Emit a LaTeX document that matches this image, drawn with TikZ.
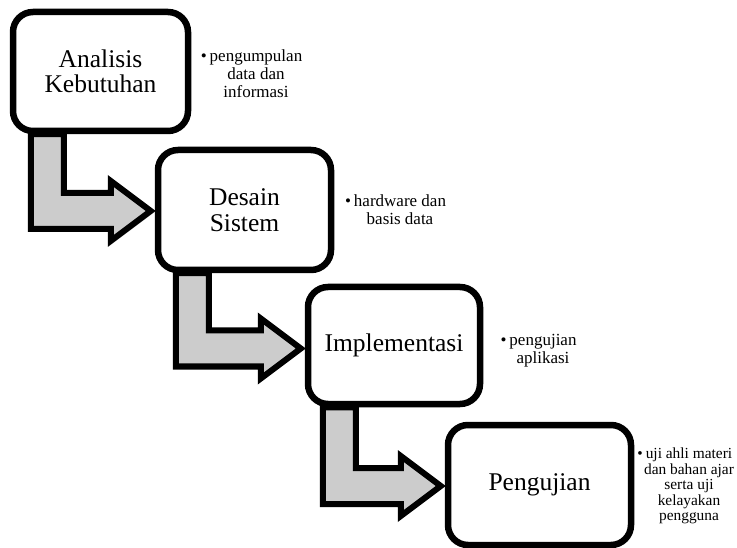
\documentclass[tikz,border=0pt]{standalone}
\pgfdeclarelayer{background}
\pgfsetlayers{background,main}
\usepackage{fontspec}
\setmainfont{Liberation Serif}
\usetikzlibrary{calc}
\definecolor{arrowgray}{gray}{0.8}

\begin{document}
\begin{tikzpicture}[x=1pt,y=-1pt]
      \tikzstyle{every node}=[font=\fontsize{17}{18}\selectfont]
      \tikzstyle{stage}=[draw, line width=6.5pt, rounded corners=20pt, fill=white,
        align=center, inner sep=0pt, font=\fontsize{25.5}{25.5}\selectfont]
      \tikzstyle{bentarrow}=[draw, line width=6pt, line join=miter, fill=arrowgray]
      \tikzstyle{note}=[align=center, inner sep=0pt]
      \useasboundingbox (0,0) rectangle (737,548);
      % Stages
      \node[stage, minimum width=175pt, minimum height=119pt] (analisis) at (100.5,71.5) {Analisis\\Kebutuhan};
      \node[stage, minimum width=173pt, minimum height=120pt] (desain) at (244.5,210) {Desain\\Sistem};
      \node[stage, minimum width=172pt, minimum height=117pt] (implementasi) at (394,345.5) {Implementasi};
      \node[stage, minimum width=183pt, minimum height=120pt] (pengujian) at (539.5,485) {Pengujian};
      % Notes
      \node[note] (notaanalisis) at (256,73.5) {\llap{\textbullet\hspace{3pt}}pengumpulan\\data dan\\informasi};
      \node[note] (notadesain) at (400,210) {\llap{\textbullet\hspace{3pt}}hardware dan\\basis data};
      \node[note] (notaimplementasi) at (543,351) {\llap{\textbullet\hspace{3pt}}pengujian\\aplikasi};
      \node[note, font=\fontsize{15.4}{15.5}\selectfont] (notapengujian) at (689,486)
        {\llap{\textbullet\hspace{3pt}}uji ahli materi\\dan bahan ajar\\serta uji\\kelayakan\\pengguna};
      % Bent arrows, under the stages
      \begin{pgfonlayer}{background}
      \draw[bentarrow] ($(analisis.south west)+(21,0)$) |- ($(desain.west)+(-44,19)$) -- ++(0,12)
        -- ($(desain.west)+(-4,1)$) -- ++(-40,-30) -- ++(0,12) -| ($(analisis.south west)+(54,0)$) -- cycle;
      \draw[bentarrow] ($(desain.south west)+(21,0)$) |- ($(implementasi.west)+(-44,21)$) -- ++(0,12)
        -- ($(implementasi.west)+(-4,3)$) -- ++(-40,-30) -- ++(0,12) -| ($(desain.south west)+(54,0)$) -- cycle;
      \draw[bentarrow] ($(implementasi.south west)+(18,0)$) |- ($(pengujian.west)+(-44,19)$) -- ++(0,12)
        -- ($(pengujian.west)+(-4,1)$) -- ++(-40,-30) -- ++(0,12) -| ($(implementasi.south west)+(51,0)$) -- cycle;
      \end{pgfonlayer}
\end{tikzpicture}
\end{document}
